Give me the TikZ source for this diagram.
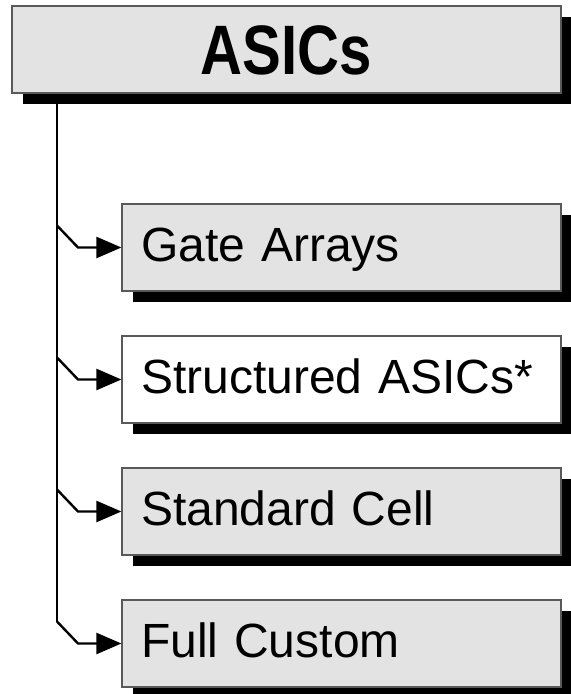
\documentclass[tikz,border=0pt]{standalone}
\usepackage{fontspec}
\setmainfont{Liberation Sans}
\usetikzlibrary{shadows,arrows.meta}
\tikzset{
  box/.style={draw=black!65, line width=0.6pt, fill=black!11,
    drop shadow={shadow xshift=5.25pt, shadow yshift=-5.5pt, fill=black, opacity=1},
    minimum height=43.5pt, inner xsep=9.5pt, text width=200.5pt, align=left,
    text height=19.4pt, text depth=5pt, font=\fontsize{24}{28}\selectfont},
  topbox/.style={box, text width=255.5pt, align=center, text height=25.5pt, text depth=0pt,
    font=\fontsize{35}{40}\selectfont\bfseries},
  branch/.style={line width=1.2pt, -{Triangle[length=12.5pt,width=10.5pt]}},
}
\begin{document}
\begin{tikzpicture}[x=0.5pt, y=-0.5pt]
    \useasboundingbox (0,0) rectangle (571,694);
    %titolo
    \node[topbox] (asics) at (286.5,49.5) {\scalebox{0.83}[1]{ASICs}};
    %famiglie
    \node[box] (gate) at (341.5,247.5) {Gate Arrays};
    \node[box, fill=white] (struct) at (341.5,379.5) {Structured ASICs*};
    \node[box] (std) at (341.5,511.5) {Standard Cell};
    \node[box] (full) at (341.5,643.5) {Full Custom};
    %tronco
    \coordinate (b1) at (57,225.5);
    \coordinate (b2) at (57,357.5);
    \coordinate (b3) at (57,489.5);
    \coordinate (b4) at (57,621.5);
    \draw[line width=1.2pt] (asics.south -| b1) -- (b4);
    %rami
    \draw[branch] (b1) --++ (21,22) -- (gate.west);
    \draw[branch] (b2) --++ (21,22) -- (struct.west);
    \draw[branch] (b3) --++ (21,22) -- (std.west);
    \draw[branch] (b4) --++ (21,22) -- (full.west);
\end{tikzpicture}
\end{document}
